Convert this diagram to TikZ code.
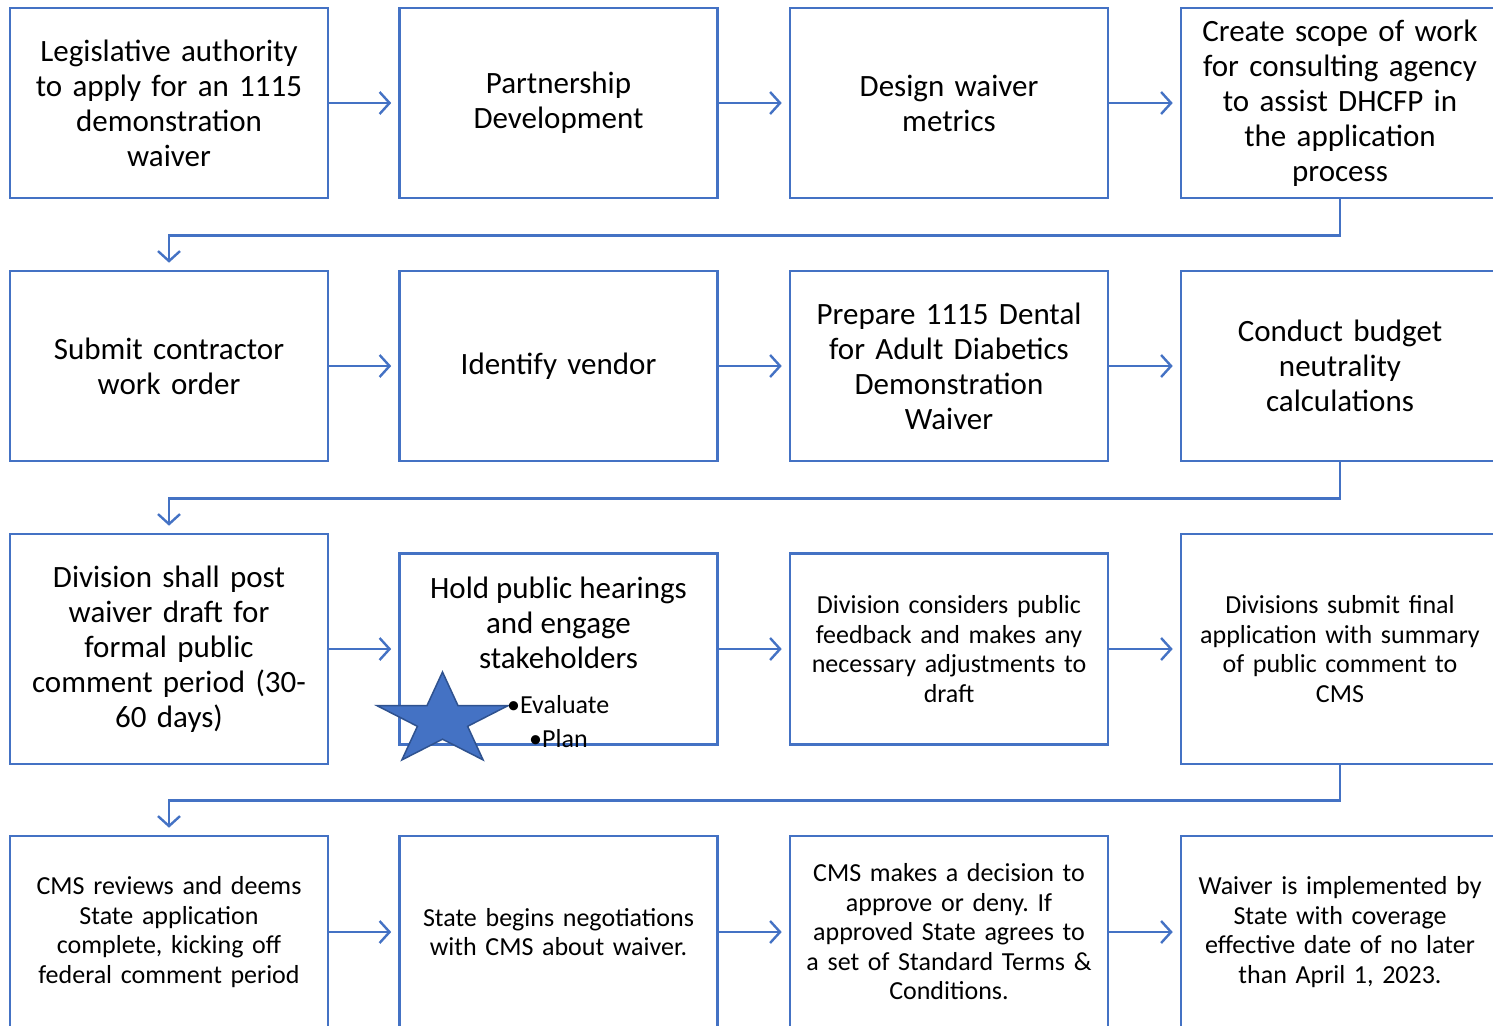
\documentclass[tikz,border=0pt]{standalone}
\usepackage{fontspec}
\setmainfont{Carlito}
\usetikzlibrary{arrows.meta,shapes}
\definecolor{waiverblue}{RGB}{68,114,196}
\definecolor{stardark}{RGB}{47,82,143}
\frenchspacing

\begin{document}
\begin{tikzpicture}[x=1pt, y=-1pt,
    stepbox/.style={draw=waiverblue, rectangle, line width=2.6pt, minimum width=318pt, minimum height=190pt,
        inner sep=0pt, text width=305pt, align=center, font=\fontsize{31}{35}\selectfont},
    smalltext/.style={font=\fontsize{26}{29.5}\selectfont},
    flow/.style={draw=waiverblue, line width=2.4pt, -{Straight Barb[length=10pt,width=22pt,line width=2.4pt]}, shorten >=7pt}]
    \useasboundingbox (0,0) rectangle (1493,1025);
    \clip (0,0) rectangle (1493,1025);

    % Row 1
    \node[stepbox] (legis) at (169,103) {Legislative authority\\to apply for an 1115\\demonstration\\waiver};
    \node[stepbox] (partner) at (558.5,103) {Partnership\\Development};
    \node[stepbox] (metrics) at (949,103) {Design waiver\\metrics};
    \node[stepbox] (scope) at (1340,103) {Create scope of work\\for consulting agency\\to assist DHCFP in\\the application\\process};

    \draw[flow] (legis.east) -- (partner.west);
    \draw[flow] (partner.east) -- (metrics.west);
    \draw[flow] (metrics.east) -- (scope.west);

    % Row 2
    \node[stepbox] (submit) at (169,366) {Submit contractor\\work order};
    \node[stepbox] (vendor) at (558.5,366) {Identify vendor};
    \node[stepbox] (prepare) at (949,366) {Prepare 1115 Dental\\for Adult Diabetics\\Demonstration\\Waiver};
    \node[stepbox] (budget) at (1340,366) {Conduct budget\\neutrality\\calculations};

    \draw[flow] (scope.south) -- ++(0,36) -| (submit.north);
    \draw[flow] (submit.east) -- (vendor.west);
    \draw[flow] (vendor.east) -- (prepare.west);
    \draw[flow] (prepare.east) -- (budget.west);

    % Row 3
    \node[stepbox, minimum height=230pt] (post) at (169,649) {Division shall post\\waiver draft for\\formal public\\comment period (30-\\60 days)};
    \node[stepbox, minimum height=191pt] (hearings) at (558.5,649) {};
    \node[stepbox, minimum height=191pt, smalltext] (feedback) at (949,649) {Division considers public\\feedback and makes any\\necessary adjustments to\\draft};
    \node[stepbox, minimum height=230pt, smalltext] (final) at (1340,649) {Divisions submit final\\application with summary\\of public comment to\\CMS};

    \draw[flow] (budget.south) -- ++(0,36) -| (post.north);
    \draw[flow] (post.east) -- (hearings.west);
    \draw[flow] (hearings.east) -- (feedback.west);
    \draw[flow] (feedback.east) -- (final.west);

    % star and bullets on the hearings box
    \fill[waiverblue, draw=stardark, line width=1.5pt] (442.5,672) -- (458,705.6) -- (508.1,705.6) -- (467.6,726.3)
        -- (483.1,759.9) -- (442.5,739.2) -- (401.9,759.9) -- (417.4,726.3) -- (376.9,705.6) -- (427,705.6) -- cycle;
    \node[align=center, font=\fontsize{31}{35}\selectfont] (hearingstext) at (558.5,623) {Hold public hearings\\and engage\\stakeholders};
    \node[smalltext, anchor=west, inner sep=0pt] (evaluate) at (507,705) {\textbullet Evaluate};
    \node[smalltext, anchor=west, inner sep=0pt] (plan) at (529,739) {\textbullet Plan};

    % Row 4
    \node[stepbox, minimum height=192pt, smalltext] (reviews) at (169,932) {CMS reviews and deems\\State application\\complete, kicking off\\federal comment period};
    \node[stepbox, minimum height=192pt, smalltext] (negotiate) at (558.5,932) {State begins negotiations\\with CMS about waiver.};
    \node[stepbox, minimum height=192pt, smalltext] (decision) at (949,932) {CMS makes a decision to\\approve or deny. If\\approved State agrees to\\a set of Standard Terms \&\\Conditions.};
    \node[stepbox, minimum height=192pt, smalltext] (implement) at (1340,932) {Waiver is implemented by\\State with coverage\\effective date of no later\\than April 1, 2023.};

    \draw[flow] (final.south) -- ++(0,35) -| (reviews.north);
    \draw[flow] (reviews.east) -- (negotiate.west);
    \draw[flow] (negotiate.east) -- (decision.west);
    \draw[flow] (decision.east) -- (implement.west);
\end{tikzpicture}
\end{document}
